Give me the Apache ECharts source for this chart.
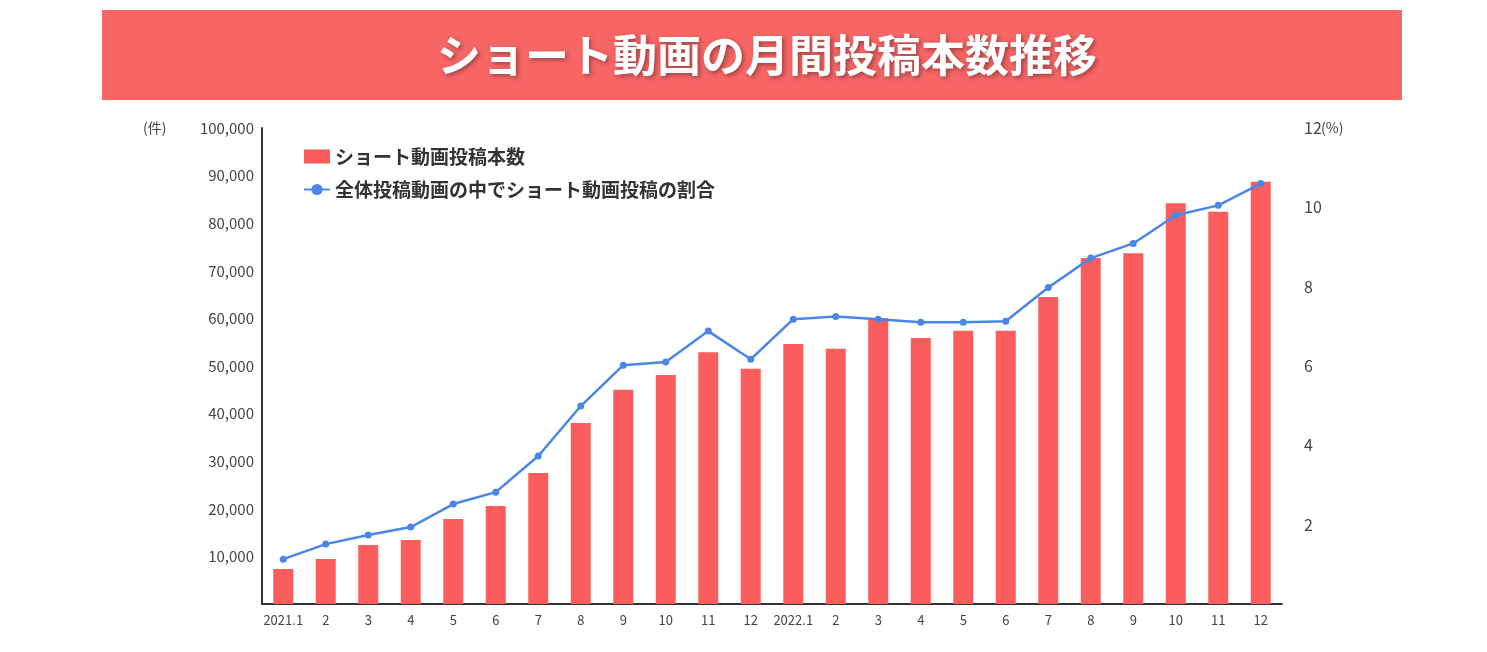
<!DOCTYPE html>
<html><head><meta charset="utf-8">
<script src="https://cdn.jsdelivr.net/npm/echarts@6/dist/echarts.min.js"></script>
<style>html,body{margin:0;padding:0;background:#fff}#c{width:1487px;height:652px}</style>
</head><body><div id="c"></div>
<script>
var months = ['2021.1','2','3','4','5','6','7','8','9','10','11','12','2022.1','2','3','4','5','6','7','8','9','10','11','12'];
var shortCount = [7350,9450,12400,13450,17850,20600,27500,38000,45000,48100,52900,49400,54600,53600,60100,55900,57400,57400,64500,72700,73700,84200,82400,88700];
var shortRatio = [1.13,1.51,1.74,1.94,2.52,2.82,3.73,4.99,6.02,6.10,6.88,6.17,7.18,7.25,7.18,7.10,7.10,7.13,7.98,8.72,9.09,9.80,10.05,10.60];
var title = 'ショート動画の月間投稿本数推移';

var chart = echarts.init(document.getElementById('c'));
var font = '"Noto Sans CJK JP", sans-serif';
chart.setOption({
  animation: false,
  textStyle: { fontFamily: font },
  graphic: [
    { type: 'rect', shape: { x: 102, y: 10, width: 1300, height: 90 }, style: { fill: '#f76565' } },
    { type: 'text', x: 767, y: 55, style: { text: title, fill: '#fff', font: 'bold 44px ' + font, textAlign: 'center', textVerticalAlign: 'middle', textShadowColor: 'rgba(0,0,0,0.35)', textShadowBlur: 4, textShadowOffsetX: 2, textShadowOffsetY: 2 } },
    { type: 'text', x: 143, y: 121, style: { text: '(件)', fill: '#444', font: '14px ' + font } },
    { type: 'text', x: 1321, y: 121, style: { text: '(%)', fill: '#444', font: '14px ' + font } }
  ],
  legend: {
    orient: 'vertical', left: 298, top: 142, itemGap: 14, itemWidth: 26, itemHeight: 14,
    textStyle: { fontSize: 19, color: '#333', fontWeight: 'bold', fontFamily: font },
    data: [{ name: 'ショート動画投稿本数', icon: 'rect' }, { name: '全体投稿動画の中でショート動画投稿の割合' }]
  },
  grid: { left: 262, right: 205, top: 128, bottom: 48 },
  xAxis: {
    type: 'category', data: months,
    axisLine: { lineStyle: { color: '#333', width: 2 } },
    axisTick: { show: false },
    axisLabel: { color: '#444', fontSize: 13, margin: 10, interval: 0 }
  },
  yAxis: [{
    type: 'value', min: 0, max: 100000, interval: 10000,
    axisLine: { show: true, lineStyle: { color: '#333', width: 2 } },
    axisTick: { show: false }, splitLine: { show: false },
    axisLabel: { color: '#444', fontSize: 15, showMinLabel: false,
      formatter: function (v) { return v.toLocaleString('en-US'); } }
  }, {
    type: 'value', min: 0, max: 12, interval: 2,
    axisLine: { show: false }, axisTick: { show: false }, splitLine: { show: false },
    axisLabel: { color: '#444', fontSize: 16, showMinLabel: false, margin: 22 }
  }],
  series: [{
    name: 'ショート動画投稿本数', type: 'bar', data: shortCount, barWidth: 20,
    itemStyle: { color: '#fb5c5c' }
  }, {
    name: '全体投稿動画の中でショート動画投稿の割合', type: 'line', yAxisIndex: 1, data: shortRatio,
    symbol: 'circle', symbolSize: 7,
    lineStyle: { color: '#4a86e8', width: 2.5 }, itemStyle: { color: '#4a86e8' }
  }]
});
</script></body></html>
